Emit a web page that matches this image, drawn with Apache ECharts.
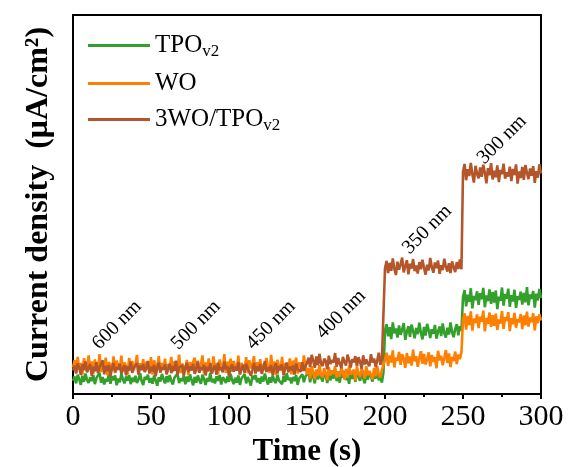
<!DOCTYPE html>
<html>
<head>
<meta charset="utf-8">
<script src="https://cdn.jsdelivr.net/npm/echarts@6/dist/echarts.min.js"></script>
<style>html,body{margin:0;padding:0;background:#fff}#c{width:568px;height:467px}</style>
</head>
<body>
<div id="c"></div>
<script>
// time step of the recorded photocurrent (s)
const timeStep = 1;
const xTicks = [0, 50, 100, 150, 200, 250, 300];

const seriesNames = ['TPO_v2', 'WO', '3WO/TPO_v2'];

// TPO_v2 (green)
const tpoValues = [
3.5,4.6,2.8,5.1,3.9,2.4,4.8,3.2,5.4,3.7,2.9,4.4,3.4,5.0,2.6,4.2,3.8,5.6,3.0,4.5,
2.5,4.0,3.3,5.2,2.7,4.7,3.6,4.9,2.3,4.1,3.1,5.3,3.9,2.8,4.6,3.5,5.0,2.6,4.3,3.2,
4.8,2.9,3.7,5.5,3.4,2.4,4.5,3.8,5.1,3.0,4.2,2.7,4.9,3.6,2.2,4.4,3.3,5.3,3.9,2.8,
4.7,3.1,5.0,3.5,2.5,4.3,3.8,5.4,2.9,4.1,3.4,4.8,2.6,4.6,3.2,5.2,3.7,2.3,4.5,3.0,
4.9,3.6,2.7,5.1,3.9,2.4,4.2,3.3,5.6,3.1,4.0,2.8,4.7,3.5,5.0,2.5,4.4,3.8,2.9,4.6,
3.2,5.3,3.7,2.6,4.3,3.0,4.9,2.4,4.1,3.6,5.2,2.8,4.5,3.4,2.2,4.8,3.9,5.0,3.1,4.2,
2.7,4.6,3.3,5.4,3.8,2.5,4.4,3.0,4.9,3.5,2.9,5.1,3.6,4.0,2.6,4.7,3.2,5.5,3.7,4.3,
2.8,4.5,3.4,5.0,2.4,4.1,3.9,5.2,3.1,4.6,
4.2,5.8,3.1,5.3,4.6,2.8,6.2,3.9,5.0,4.4,3.3,5.7,4.8,2.9,6.0,3.6,5.2,4.1,6.4,3.4,
4.9,3.0,5.5,4.3,6.1,3.7,4.7,2.7,5.9,4.0,5.4,3.2,6.3,4.5,3.5,5.6,4.2,2.8,5.1,3.8,
6.0,4.6,3.3,5.3,4.1,6.5,3.6,4.8,3.0,5.7,
16.8,18.4,15.2,17.6,14.5,18.9,16.0,17.3,14.9,18.1,15.6,17.0,18.7,14.3,16.4,17.9,15.1,18.3,16.6,14.7,
17.4,15.8,18.8,16.2,14.4,17.7,15.4,18.5,16.9,14.8,17.1,15.9,18.2,14.6,16.5,17.8,15.3,18.6,16.1,14.9,
17.5,15.7,18.9,16.3,15.0,17.2,18.4,15.5,17.9,16.7,
25.6,27.4,23.1,26.2,24.3,27.9,22.6,25.9,24.8,27.1,23.5,26.6,25.0,28.0,22.9,26.0,24.5,27.6,23.8,26.9,
24.1,27.3,22.4,25.7,24.6,28.1,23.3,26.4,25.2,27.8,23.0,26.1,24.4,27.5,22.7,25.8,24.9,27.0,23.6,26.7,
24.2,28.2,23.4,26.3,25.1,27.2,22.8,26.5,24.7,27.7,25.3
];

// WO (orange)
const woValues = [
7.0,8.9,5.6,9.8,6.4,8.2,5.1,9.4,7.5,6.0,10.2,6.8,8.6,5.3,9.1,7.2,6.3,10.5,5.8,8.0,
6.6,9.6,5.0,8.4,7.7,6.1,9.9,5.5,8.8,7.1,6.5,10.1,5.9,8.3,7.4,5.2,9.5,6.9,8.7,6.2,
7.8,10.3,5.4,8.1,6.7,9.2,5.7,8.5,7.3,6.0,9.7,5.1,8.9,7.6,6.4,10.0,5.6,8.2,6.8,9.3,
5.3,7.9,6.6,9.8,5.9,8.6,7.0,6.2,10.4,5.5,8.0,7.5,6.3,9.0,5.0,8.4,7.2,6.7,9.6,5.8,
8.8,6.5,7.7,10.2,5.4,8.3,6.1,9.4,7.1,5.7,9.9,6.9,8.1,5.2,9.1,7.4,6.0,10.5,5.6,8.5,
6.6,9.3,5.9,8.7,7.3,6.4,10.1,5.1,8.2,7.8,6.2,9.7,5.5,8.9,6.8,7.6,10.0,5.3,8.4,6.5,
9.2,5.8,7.9,6.3,9.5,7.0,5.6,10.3,6.7,8.6,5.0,9.0,7.5,6.1,9.8,5.7,8.1,7.2,6.4,9.4,
5.2,8.8,6.9,9.6,5.4,8.3,7.7,6.0,10.2,7.1,
5.2,6.9,4.1,7.3,5.8,3.9,6.5,4.7,7.6,5.0,4.4,6.8,5.5,3.7,7.1,4.9,6.2,5.3,7.4,4.2,
6.0,4.6,7.0,5.7,3.8,6.6,4.3,7.5,5.1,4.8,6.4,3.6,7.2,5.4,4.5,6.7,5.9,4.0,7.3,4.9,
6.1,5.6,3.9,6.9,4.7,7.4,5.2,4.4,6.3,5.8,
9.0,10.9,7.4,10.2,8.3,11.5,7.0,9.6,8.8,11.1,7.7,10.5,9.3,6.9,10.8,8.1,9.9,7.5,11.7,8.6,
10.0,7.2,9.4,11.3,8.0,10.6,7.8,9.1,11.0,7.3,10.3,8.5,9.7,6.8,11.4,8.9,10.1,7.6,9.5,11.6,
8.2,10.7,7.1,9.8,8.7,11.2,7.9,10.4,9.2,11.0,
19.5,21.3,17.0,20.6,18.2,21.8,16.7,19.9,18.8,21.0,17.4,20.4,19.1,22.0,16.5,20.1,18.5,21.5,17.7,20.8,
18.0,21.2,16.9,19.7,18.6,21.9,17.2,20.3,19.3,21.6,16.6,20.0,18.4,21.4,17.5,19.8,18.9,21.1,17.1,20.7,
18.1,21.7,17.8,20.2,19.0,21.3,16.8,20.5,18.7,21.0,19.4
];

// 3WO/TPO_v2 (brown)
const compValues = [
6.2,7.5,5.4,8.1,6.9,5.0,7.8,6.3,8.6,5.7,6.8,7.9,4.8,7.2,6.0,8.4,5.5,7.0,6.6,8.9,5.2,7.4,6.1,7.7,4.6,6.9,8.2,5.8,7.1,6.4,
8.0,5.3,6.7,7.6,4.9,7.3,6.2,8.5,5.6,7.0,6.5,8.1,5.1,7.5,6.3,7.9,5.9,6.8,8.7,5.4,7.2,6.0,7.7,4.7,6.9,8.3,5.7,7.1,6.4,7.8,
5.2,6.6,8.0,5.5,7.4,6.1,8.8,5.0,7.0,6.7,7.6,4.8,6.9,8.2,5.8,7.3,6.2,7.9,5.3,6.8,8.5,5.6,7.1,6.4,7.7,4.9,7.2,6.0,8.1,5.4,
6.7,7.5,5.1,8.3,6.3,7.0,5.7,8.6,6.5,7.4,4.6,6.9,7.8,5.9,7.2,6.1,8.4,5.2,6.6,7.7,5.5,8.0,6.8,7.1,4.8,6.4,8.2,5.6,7.3,6.0,
7.9,5.3,6.7,8.7,5.8,7.0,6.2,7.6,5.0,6.9,8.1,5.4,7.4,6.5,7.8,4.9,6.8,8.3,5.7,7.2,6.3,7.5,5.1,8.0,6.6,7.1,5.9,8.4,6.1,7.3,
8.2,9.6,7.1,10.3,8.8,6.9,9.9,7.6,10.6,8.0,7.4,9.3,8.7,6.5,10.1,7.9,9.0,8.3,10.8,7.2,
9.5,8.1,6.8,9.8,8.5,7.5,10.4,8.9,7.0,9.2,8.4,10.0,7.3,9.7,8.6,6.7,10.2,7.8,9.1,8.0,
7.4,10.5,8.3,9.4,7.1,8.8,10.9,7.7,9.0,8.5,
33.2,35.1,31.9,34.6,32.5,35.8,33.0,31.4,34.9,32.8,34.2,36.0,32.1,33.7,35.3,31.6,34.4,33.1,35.6,32.4,
33.9,31.8,34.8,32.9,35.4,33.3,31.5,34.1,32.6,35.9,33.5,32.0,34.7,33.2,35.2,31.7,34.0,32.7,35.7,33.6,
32.3,34.5,31.9,35.0,33.4,32.2,34.8,33.0,35.5,32.9,
58.6,60.7,56.4,59.3,57.5,61.0,57.9,55.8,60.2,58.1,56.9,59.8,57.3,60.5,58.4,55.6,59.6,57.7,60.9,56.6,
58.9,57.2,60.3,55.9,59.1,58.0,60.8,56.8,58.5,57.4,60.0,56.2,59.4,57.8,60.6,55.5,58.7,57.0,59.9,56.5,
60.4,58.3,56.7,59.5,57.6,60.1,55.7,58.8,57.1,60.6,58.2
];

// wavelength annotations: [text, time (s), current]
const annotations = [
  ['600 nm', 28.2, 18.2],
  ['500 nm', 78.8, 18.2],
  ['450 nm', 126.9, 18.2],
  ['400 nm', 171.8, 21.0],
  ['350 nm', 227.0, 43.4],
  ['300 nm', 275.0, 67.1]
];

const FONT = 'Liberation Serif, Times New Roman, serif';
const colors = ['#33a02c', '#ff7f00', '#b4562a'];

function toPairs(vals) { return vals.map((v, i) => [i * timeStep, v]); }

const chart = echarts.init(document.getElementById('c'), null, {renderer: 'canvas'});

const legendLabel = {
  'TPO_v2': '{n|TPO}{s|v2}',
  'WO': '{n|WO}',
  '3WO/TPO_v2': '{n|3WO/TPO}{s|v2}'
};

const option = {
  animation: false,
  backgroundColor: '#fff',
  color: colors,
  grid: {left: 73, right: 27, top: 15, bottom: 73, outerBoundsMode: 'none', containLabel: false},
  legend: {
    orient: 'vertical',
    left: 83, top: 28,
    icon: 'rect',
    itemWidth: 62, itemHeight: 3,
    itemGap: 11,
    data: seriesNames,
    formatter: n => legendLabel[n],
    textStyle: {
      fontFamily: FONT, fontSize: 25, color: '#000',
      rich: {
        n: {fontFamily: FONT, fontSize: 25, color: '#000', lineHeight: 26},
        s: {fontFamily: FONT, fontSize: 17, color: '#000', padding: [12, 0, 0, 0]}
      }
    }
  },
  xAxis: [{
    type: 'value', min: 0, max: 300, interval: 50,
    name: 'Time (s)', nameLocation: 'middle', nameGap: 35,
    nameTextStyle: {fontFamily: FONT, fontSize: 31, fontWeight: 'bold', color: '#000'},
    axisLine: {show: true, onZero: false, lineStyle: {color: '#000', width: 2}},
    axisTick: {show: true, inside: false, length: 5, lineStyle: {color: '#000', width: 2}},
    minorTick: {show: true, splitNumber: 2, length: 3, lineStyle: {color: '#000', width: 2}},
    axisLabel: {fontFamily: FONT, fontSize: 30, color: '#000', margin: 8,
      formatter: v => xTicks.includes(v) ? String(v) : ''},
    splitLine: {show: false}
  }, {
    type: 'value', min: 0, max: 300, position: 'top',
    axisLine: {show: true, onZero: false, lineStyle: {color: '#000', width: 2}},
    axisTick: {show: false}, axisLabel: {show: false}, splitLine: {show: false}
  }],
  yAxis: [{
    type: 'value', min: 0, max: 100,
    name: 'Current density  (μA/cm²)', nameLocation: 'middle', nameGap: 18,
    nameTextStyle: {fontFamily: FONT, fontSize: 32, fontWeight: 'bold', color: '#000'},
    axisLine: {show: true, onZero: false, lineStyle: {color: '#000', width: 2}},
    axisTick: {show: false}, axisLabel: {show: false}, splitLine: {show: false}
  }, {
    type: 'value', min: 0, max: 100, position: 'right',
    axisLine: {show: true, onZero: false, lineStyle: {color: '#000', width: 2}},
    axisTick: {show: false}, axisLabel: {show: false}, splitLine: {show: false}
  }],
  series: [
    {name: 'TPO_v2', type: 'line', data: toPairs(tpoValues), showSymbol: false, lineStyle: {width: 2.6, color: colors[0]}, itemStyle: {color: colors[0]}},
    {name: 'WO', type: 'line', data: toPairs(woValues), showSymbol: false, lineStyle: {width: 2.6, color: colors[1]}, itemStyle: {color: colors[1]}},
    {name: '3WO/TPO_v2', type: 'line', data: toPairs(compValues), showSymbol: false, lineStyle: {width: 2.6, color: colors[2]}, itemStyle: {color: colors[2]}}
  ]
};
chart.setOption(option);

const graphics = annotations.map(([txt, t, v]) => {
  const p = chart.convertToPixel({xAxisIndex: 0, yAxisIndex: 0}, [t, v]);
  return {
    type: 'text', x: p[0], y: p[1], rotation: Math.PI / 4,
    style: {text: txt, fontFamily: FONT, fontSize: 20, fill: '#000', align: 'center', verticalAlign: 'middle'}
  };
});
chart.setOption({graphic: graphics});
</script>
</body>
</html>
